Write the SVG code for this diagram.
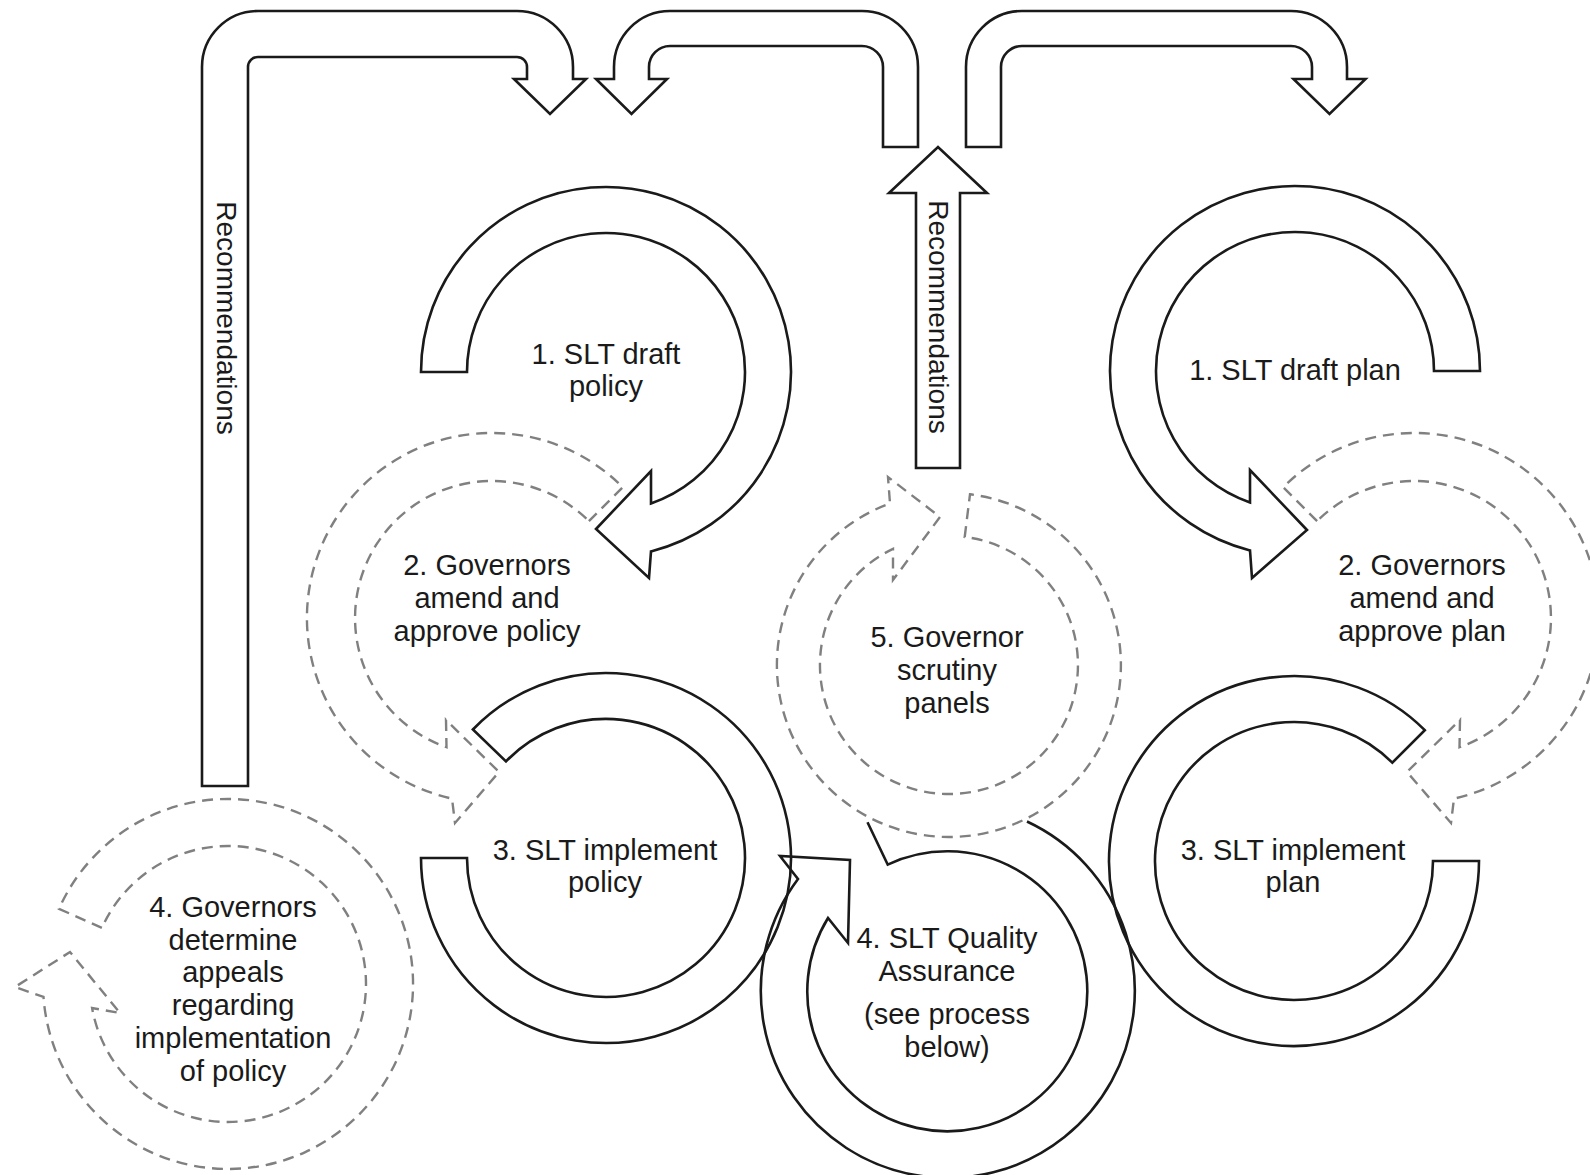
<svg xmlns="http://www.w3.org/2000/svg" width="1590" height="1175" viewBox="0 0 1590 1175">
<style>
.solid{fill:none;stroke:#1a1a1a;stroke-width:2.6;stroke-linejoin:miter}
.dash{fill:none;stroke:#808080;stroke-width:2.4;stroke-dasharray:11 7}
.wfill{fill:#ffffff}
.lbl{font-family:"Liberation Sans",Arial,sans-serif;font-size:29px;fill:#1a1a1a;text-anchor:middle}
.rec{font-family:"Liberation Sans",Arial,sans-serif;font-size:28px;fill:#1a1a1a;text-anchor:middle}
</style>
<rect width="1590" height="1175" fill="#ffffff"/>
<g id="connectors">
  <path id="arrow-left-recommendations" class="solid" d="M202,786 L202,67 A56,56 0 0 1 258,11 L517,11 A56,56 0 0 1 573,67 L573,79 L586,79 L550,114 L514,79 L527,79 L527,67 A10,10 0 0 0 517,57 L258,57 A10,10 0 0 0 248,67 L248,786 Z"/>
  <path id="arrow-top-middle" class="solid" d="M918,147 L918,67 A56,56 0 0 0 862,11 L670,11 A56,56 0 0 0 614,67 L614,79 L596,79 L631.5,114 L667,79 L649,79 L649,67 A21,21 0 0 1 670,46 L862,46 A21,21 0 0 1 883,67 L883,147 Z"/>
  <path id="arrow-top-right" class="solid" d="M966,147 L966,67 A56,56 0 0 1 1022,11 L1291,11 A56,56 0 0 1 1347,67 L1347,79 L1365.5,79 L1329.5,114 L1293.5,79 L1312,79 L1312,67 A21,21 0 0 0 1291,46 L1022,46 A21,21 0 0 0 1001,67 L1001,147 Z"/>
  <path id="arrow-up-recommendations" class="solid" d="M916,468 L916,193 L889,193 L938,147 L987,193 L960,193 L960,468 Z"/>
  <text class="rec" transform="translate(217,318) rotate(90)">Recommendations</text>
  <text class="rec" transform="translate(929,317) rotate(90)">Recommendations</text>
</g>
<g id="node-slt-draft-policy">
  <path class="solid" d="M421,372 A185,185 0 1 1 651,551.4 L649,578 L596,529 L651,471 L651,503.5 A139,139 0 1 0 467,372 Z"/>
  <text class="lbl" x="606" y="364">1. SLT draft</text>
  <text class="lbl" x="606" y="396">policy</text>
</g>
<g id="node-slt-draft-plan">
  <path class="solid" d="M1480,371 A185,185 0 1 0 1250,550.4 L1252,578 L1307,530 L1250,470 L1250,502.5 A139,139 0 1 1 1434,371 Z"/>
  <text class="lbl" x="1295" y="380">1. SLT draft plan</text>
</g>
<g id="node-governors-approve-policy">
  <path class="dash" d="M588.9,521.1 L622.8,487.2 A185,185 0 1 0 452,798.6 L455,823 L499,772 L446,720 L446.5,747.2 A137,137 0 1 1 588.9,521.1 Z"/>
  <text class="lbl" x="487" y="575">2. Governors</text>
  <text class="lbl" x="487" y="608">amend and</text>
  <text class="lbl" x="487" y="641">approve policy</text>
</g>
<g id="node-governors-approve-plan">
  <path class="dash" d="M1317.1,521.1 L1283.2,487.2 A185,185 0 1 1 1454,798.6 L1451,823 L1407,772 L1460,720 L1459.5,747.2 A137,137 0 1 0 1317.1,521.1 Z"/>
  <text class="lbl" x="1422" y="575">2. Governors</text>
  <text class="lbl" x="1422" y="608">amend and</text>
  <text class="lbl" x="1422" y="641">approve plan</text>
</g>
<g id="node-slt-implement-policy">
  <path class="solid" d="M421,858 A185,185 0 1 0 472.9,729.5 L506,761.4 A139,139 0 1 1 467,858 Z"/>
  <text class="lbl" x="605" y="860">3. SLT implement</text>
  <text class="lbl" x="605" y="892">policy</text>
</g>
<g id="node-slt-implement-plan">
  <path class="solid" d="M1479,861 A185,185 0 1 1 1424.8,730.2 L1392.3,762.7 A139,139 0 1 0 1433,861 Z"/>
  <text class="lbl" x="1293" y="860">3. SLT implement</text>
  <text class="lbl" x="1293" y="892">plan</text>
</g>
<g id="node-slt-quality-assurance">
  <path class="solid" d="M1027,821.5 A187,187 0 1 1 798,879 L780,856 L850,860 L848,943 L828,918 A140,140 0 1 0 887.7,864.6 L867.5,822.2"/>
  <text class="lbl" x="947" y="948">4. SLT Quality</text>
  <text class="lbl" x="947" y="981">Assurance</text>
  <text class="lbl" x="947" y="1024">(see process</text>
  <text class="lbl" x="947" y="1057">below)</text>
</g>
<g id="node-governor-scrutiny-panels">
  <path class="dash wfill" d="M964.7,537 L970,494.3 A172,172 0 1 1 890,503.4 L888,477 L940,517 L893,580 L893,548.8 A129,129 0 1 0 964.7,537 Z"/>
  <text class="lbl" x="947" y="647">5. Governor</text>
  <text class="lbl" x="947" y="680">scrutiny</text>
  <text class="lbl" x="947" y="713">panels</text>
</g>
<g id="node-governors-appeals">
  <path class="dash" d="M101.9,927.9 L59,908.8 A185,185 0 1 1 43.5,996.9 L15,987 L70,952 L120,1013 L92.1,1008 A138,138 0 1 0 101.9,927.9 Z"/>
  <text class="lbl" x="233" y="917">4. Governors</text>
  <text class="lbl" x="233" y="950">determine</text>
  <text class="lbl" x="233" y="982">appeals</text>
  <text class="lbl" x="233" y="1015">regarding</text>
  <text class="lbl" x="233" y="1048">implementation</text>
  <text class="lbl" x="233" y="1081">of policy</text>
</g>
</svg>
